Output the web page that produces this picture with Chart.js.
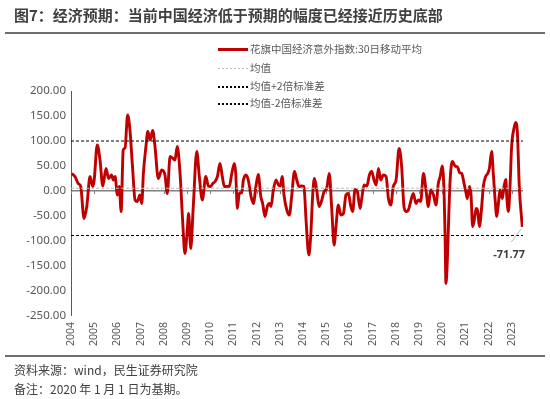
<!DOCTYPE html>
<html>
<head>
<meta charset="utf-8">
<script src="https://cdn.jsdelivr.net/npm/chart.js@4.4.1/dist/chart.umd.min.js"></script>
<style>
  html, body { margin:0; padding:0; background:#fff; }
  body { width:550px; height:399px; position:relative; overflow:hidden;
         font-family:"Noto Sans CJK SC","Noto Sans",sans-serif; }
  #c { position:absolute; left:0; top:0; }
  .title { position:absolute; left:14px; top:4px; font-size:15px; font-weight:bold; color:#404040; white-space:nowrap; letter-spacing:0; }
  .rule { position:absolute; left:5px; width:540px; height:2px; background:#6e6e6e; }
  .legend { position:absolute; left:218px; top:0; font-size:10.5px; color:#595959; }
  .row { position:absolute; left:0; white-space:nowrap; height:14px; line-height:14px; }
  .sample { position:absolute; left:0; width:30px; }
  .row span.t { position:absolute; left:32px; top:0; }
  .foot { position:absolute; left:14px; font-size:12px; color:#404040; white-space:nowrap; }
  .lastlab { position:absolute; font-size:11px; font-weight:bold; color:#404040; font-family:"Noto Sans",sans-serif; }
</style>
</head>
<body>
<canvas id="c" width="550" height="399"></canvas>
<div class="title">图7：经济预期：当前中国经济低于预期的幅度已经接近历史底部</div>
<div class="rule" style="top:32px"></div>
<div class="legend" id="legend"></div>
<div class="rule" style="top:355px"></div>
<div class="foot" style="top:361px">资料来源：wind，民生证券研究院</div>
<div class="foot" style="top:380px">备注：2020 年 1 月 1 日为基期。</div>
<div class="lastlab" id="lastlab"></div>
<script>
// ---- data ----
const seriesName = '花旗中国经济意外指数:30日移动平均';
const meanName = '均值';
const upperName = '均值+2倍标准差';
const lowerName = '均值-2倍标准差';

const xYears = [
 2004.03,2004.17,2004.31,2004.42,2004.56,2004.68,2004.82,2004.94,
 2005.00,2005.13,2005.25,2005.37,2005.51,2005.62,2005.75,2005.82,2005.90,
 2006.00,2006.08,2006.16,2006.25,2006.33,2006.44,2006.54,2006.66,2006.76,2006.86,2006.97,
 2007.05,2007.12,2007.23,2007.31,2007.41,2007.52,2007.62,2007.76,2007.91,
 2008.05,2008.15,2008.27,2008.40,2008.48,2008.58,2008.70,2008.81,2008.91,
 2009.01,2009.07,2009.16,2009.27,2009.42,2009.53,2009.66,2009.81,2009.92,
 2010.02,2010.11,2010.21,2010.31,2010.42,2010.52,2010.61,2010.74,2010.82,2010.93,
 2011.04,2011.10,2011.17,2011.25,2011.36,2011.43,2011.54,2011.64,2011.76,2011.86,2011.97,
 2012.07,2012.18,2012.26,2012.36,2012.46,2012.55,2012.62,2012.72,2012.84,2012.94,
 2013.02,2013.10,2013.18,2013.30,2013.41,2013.51,2013.63,2013.73,2013.83,2013.94,
 2014.04,2014.13,2014.25,2014.33,2014.42,2014.49,2014.59,2014.69,2014.81,2014.91,
 2015.02,2015.13,2015.24,2015.34,2015.42,2015.52,2015.63,2015.74,2015.85,2015.95,
 2016.06,2016.14,2016.24,2016.34,2016.46,2016.53,2016.63,2016.75,2016.86,2016.96,
 2017.06,2017.15,2017.25,2017.35,2017.46,2017.58,2017.68,2017.78,2017.89,
 2018.01,2018.14,2018.25,2018.35,2018.44,2018.54,2018.64,2018.75,2018.87,2018.97,
 2019.07,2019.19,2019.30,2019.40,2019.50,2019.62,2019.73,2019.83,2019.91,
 2020.00,2020.08,2020.12,2020.16,2020.22,2020.28,2020.34,2020.44,2020.55,2020.67,2020.74,2020.84,2020.94,
 2021.03,2021.08,2021.17,2021.24,2021.31,2021.38,2021.46,2021.53,2021.60,2021.70,2021.77,2021.87,2021.96,
 2022.03,2022.13,2022.20,2022.28,2022.35,2022.42,2022.49,2022.59,2022.66,2022.74,2022.78,2022.85,2022.92,2022.99,
 2023.09,2023.17,2023.24,2023.32,2023.45
];
const surpriseIndex = [
 35,29,15,9,-55,-31,29,9,
 22,92,62,10,45,25,32,22,29,
 -8,9,-41,82,86,152,122,42,-18,-21,-8,
 -25,35,89,119,102,121,89,25,42,
 32,-5,69,65,62,89,35,-58,-125,
 -78,-45,-115,-31,79,29,-18,29,10,
 9,15,19,29,55,29,9,9,9,35,
 55,35,-35,-5,-3,22,32,22,-11,-25,9,
 33,-11,-25,-51,-31,-25,-31,2,22,12,
 10,29,-8,-38,-48,-11,39,22,9,10,
 9,-58,-128,-91,-5,25,2,-31,-18,-1,
 5,35,-38,-108,-71,-28,-48,-45,-8,-5,
 -31,-41,3,-1,-35,-15,12,10,32,39,
 22,12,45,22,32,29,-15,-28,9,
 22,85,49,-31,-41,-38,-21,-5,-25,-18,
 -21,35,2,-31,2,-8,-28,15,29,
 50,-5,-85,-185,-138,-51,22,59,50,47,37,35,15,
 -5,-15,9,-8,-71,-58,-35,-41,-71,-31,9,29,35,
 45,79,35,-18,-51,-25,2,-15,9,23,-11,-41,9,89,
 125,137,115,9,-71.77
];
const meanValue = 5.5;
const upperBand = 100;
const lowerBand = -89;
const yearTicks = [2004,2005,2006,2007,2008,2009,2010,2011,2012,2013,2014,2015,2016,2017,2018,2019,2020,2021,2022,2023];
const xMin = 2004, xMax = 2023.48;
const yMin = -250, yMax = 200, yStep = 50;

// ---- legend (HTML) ----
const legendItems = [
  {name: seriesName, top: 42, style: 'top:6px;height:3px;background:#c00000'},
  {name: meanName, top: 61, style: 'top:7px;height:1px;background:repeating-linear-gradient(to right,#bfbfbf 0 2.5px,transparent 2.5px 4px)'},
  {name: upperName, top: 79, style: 'top:7px;height:1.5px;background:repeating-linear-gradient(to right,#000 0 2.5px,transparent 2.5px 4px)'},
  {name: lowerName, top: 96, style: 'top:7px;height:1.5px;background:repeating-linear-gradient(to right,#000 0 2.5px,transparent 2.5px 4px)'}
];
const lg = document.getElementById('legend');
legendItems.forEach(it => {
  const r = document.createElement('div');
  r.className = 'row'; r.style.top = it.top + 'px';
  r.innerHTML = '<div class="sample" style="' + it.style + '"></div><span class="t">' + it.name + '</span>';
  lg.appendChild(r);
});

const pts = xYears.map((x, i) => ({x: x, y: surpriseIndex[i]}));
const flat = v => [{x: xMin, y: v}, {x: xMax, y: v}];

const extras = {
  id: 'extras',
  beforeDatasetsDraw(chart) {
    const ctx = chart.ctx, xs = chart.scales.x, ys = chart.scales.y;
    const y0 = ys.getPixelForValue(0);
    ctx.save();
    ctx.strokeStyle = '#7f7f7f'; ctx.lineWidth = 1;
    yearTicks.forEach(t => {
      const px = Math.round(xs.getPixelForValue(t)) + 0.5;
      ctx.beginPath(); ctx.moveTo(px, y0); ctx.lineTo(px, y0 + 3); ctx.stroke();
    });
    ctx.restore();
  },
  afterDatasetsDraw(chart) {
    const ctx = chart.ctx;
    const meta = chart.getDatasetMeta(3);
    const last = meta.data[meta.data.length - 1];
    ctx.save();
    ctx.strokeStyle = '#a6a6a6'; ctx.lineWidth = 0.8;
    ctx.beginPath(); ctx.moveTo(last.x - 1, last.y + 2); ctx.lineTo(last.x - 11, last.y + 15); ctx.stroke();
    ctx.restore();
    const lab = document.getElementById('lastlab');
    lab.textContent = surpriseIndex[surpriseIndex.length - 1].toFixed(2);
    lab.style.left = (last.x - 29) + 'px';
    lab.style.top = (last.y + 19) + 'px';
  }
};

new Chart(document.getElementById('c'), {
  type: 'line',
  data: {
    datasets: [
      {label: meanName, data: flat(meanValue), borderColor: '#bfbfbf', borderWidth: 1, borderDash: [3, 2], pointRadius: 0},
      {label: upperName, data: flat(upperBand), borderColor: '#000', borderWidth: 1, borderDash: [3, 2], pointRadius: 0},
      {label: lowerName, data: flat(lowerBand), borderColor: '#000', borderWidth: 1, borderDash: [3, 2], pointRadius: 0},
      {label: seriesName, data: pts, borderColor: '#c00000', borderWidth: 2.9, pointRadius: 0,
       cubicInterpolationMode: 'monotone', borderJoinStyle: 'round'}
    ]
  },
  options: {
    responsive: false,
    animation: false,
    devicePixelRatio: 1,
    layout: {padding: {top: 91, right: 27, bottom: 0, left: 0}},
    plugins: {legend: {display: false}, tooltip: {enabled: false}},
    scales: {
      x: {
        type: 'linear', min: xMin, max: xMax,
        afterFit(s) { s.height = 83; },
        afterBuildTicks(s) { s.ticks = yearTicks.map(v => ({value: v})); },
        grid: {display: false, drawTicks: false},
        border: {display: false},
        ticks: {
          autoSkip: false, maxRotation: 90, minRotation: 90, padding: 6,
          color: '#595959', font: {family: 'Noto Sans', size: 10.5},
          callback: v => String(v)
        }
      },
      y: {
        min: yMin, max: yMax,
        afterFit(s) { s.width = 71; },
        grid: {
          drawTicks: false,
          color: c => (c.tick && c.tick.value === 0) ? '#7f7f7f' : 'rgba(0,0,0,0)',
          lineWidth: c => (c.tick && c.tick.value === 0) ? 1.5 : 0
        },
        border: {display: true, color: '#595959', width: 1},
        ticks: {
          stepSize: yStep, padding: 5, color: '#595959',
          font: {family: 'Noto Sans', size: 11.5},
          callback: v => v.toFixed(2)
        }
      }
    }
  },
  plugins: [extras]
});
</script>
</body>
</html>
